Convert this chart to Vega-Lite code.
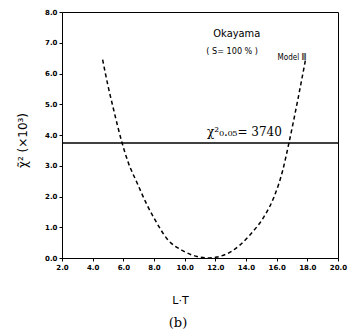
{
  "$schema": "https://vega.github.io/schema/vega-lite/v6.json",
  "width": 276,
  "height": 246,
  "autosize": "none",
  "padding": {"left": 62, "top": 12, "right": 13, "bottom": 77},
  "background": "white",
  "config": {
    "view": {"stroke": "black", "strokeWidth": 1},
    "axis": {"grid": false, "domainColor": "black", "tickColor": "black", "labelColor": "black", "titleColor": "black", "labelFont": "DejaVu Sans", "labelFontWeight": "bold", "labelFontSize": 7, "tickSize": 3, "labelOverlap": false},
    "axisX": {"labelOverlap": false},
    "axisY": {"labelOverlap": false}
  },
  "title": {"text": "(b)", "orient": "bottom", "anchor": "middle", "dx": -22, "offset": 12, "font": "DejaVu Serif", "fontSize": 13, "fontWeight": "normal", "color": "black"},
  "datasets": {
    "curve": [
      {"lt": 4.65, "chi": 6.45},
      {"lt": 5.0, "chi": 5.6},
      {"lt": 5.33, "chi": 4.9},
      {"lt": 5.92, "chi": 3.74},
      {"lt": 6.31, "chi": 3.12},
      {"lt": 6.9, "chi": 2.44},
      {"lt": 7.55, "chi": 1.72},
      {"lt": 8.0, "chi": 1.3},
      {"lt": 8.86, "chi": 0.62},
      {"lt": 9.9, "chi": 0.23},
      {"lt": 10.8, "chi": 0.05},
      {"lt": 11.5, "chi": 0.0},
      {"lt": 12.1, "chi": 0.03},
      {"lt": 13.0, "chi": 0.2},
      {"lt": 13.6, "chi": 0.42},
      {"lt": 14.2, "chi": 0.72},
      {"lt": 15.3, "chi": 1.45},
      {"lt": 15.8, "chi": 1.95},
      {"lt": 16.4, "chi": 2.86},
      {"lt": 16.8, "chi": 3.74},
      {"lt": 17.4, "chi": 5.2},
      {"lt": 17.9, "chi": 6.5}
    ],
    "notes": [
      {"lt": 13.4, "chi": 7.3, "label": "Okayama", "size": 11},
      {"lt": 13.1, "chi": 6.73, "label": "( S= 100 % )", "size": 9},
      {"lt": 17.0, "chi": 6.5, "label": "Model Ⅲ", "size": 8}
    ],
    "crit": [
      {"lt": 13.9, "chi": 4.1, "label": "χ²₀.₀₅= 3740"}
    ]
  },
  "encoding": {
    "x": {"field": "lt", "type": "quantitative", "scale": {"domain": [2, 20], "nice": false}, "axis": {"values": [2,4,6,8,10,12,14,16,18,20], "tickCount": 10, "labelOverlap": false, "labelFlush": false, "labelBound": false, "format": ".1f", "title": "L·T", "titleFont": "DejaVu Sans", "titleFontWeight": "normal", "titleFontSize": 11, "titleX": 118, "titleY": 42, "titleBaseline": "middle"}},
    "y": {"field": "chi", "type": "quantitative", "scale": {"domain": [0, 8], "nice": false}, "axis": {"tickCount": 8, "labelOverlap": false, "format": ".1f", "title": "χ̃²  (×10³)", "titleFont": "DejaVu Sans", "titleFontWeight": "normal", "titleFontSize": 12, "titleX": -40, "titleY": 128, "titleAngle": 270, "titleBaseline": "middle", "titleAlign": "center"}}
  },
  "layer": [
    {
      "data": {"name": "curve"},
      "mark": {"type": "line", "color": "black", "strokeWidth": 1.5, "strokeDash": [4, 3], "interpolate": "monotone"}
    },
    {
      "data": {"name": "notes"},
      "mark": {"type": "text", "font": "DejaVu Sans Condensed", "color": "black"},
      "encoding": {
        "text": {"field": "label"},
        "size": {"field": "size", "type": "quantitative", "scale": null}
      }
    },
    {
      "data": {"name": "crit"},
      "mark": {"type": "text", "font": "DejaVu Serif", "fontSize": 12, "color": "black"},
      "encoding": {
        "text": {"field": "label"}
      }
    },
    {
      "data": {"values": [{"chi": 3.74}]},
      "mark": {"type": "rule", "color": "black", "strokeWidth": 1.3},
      "encoding": {"x": {"value": 0}, "x2": {"value": 276}}
    }
  ]
}
